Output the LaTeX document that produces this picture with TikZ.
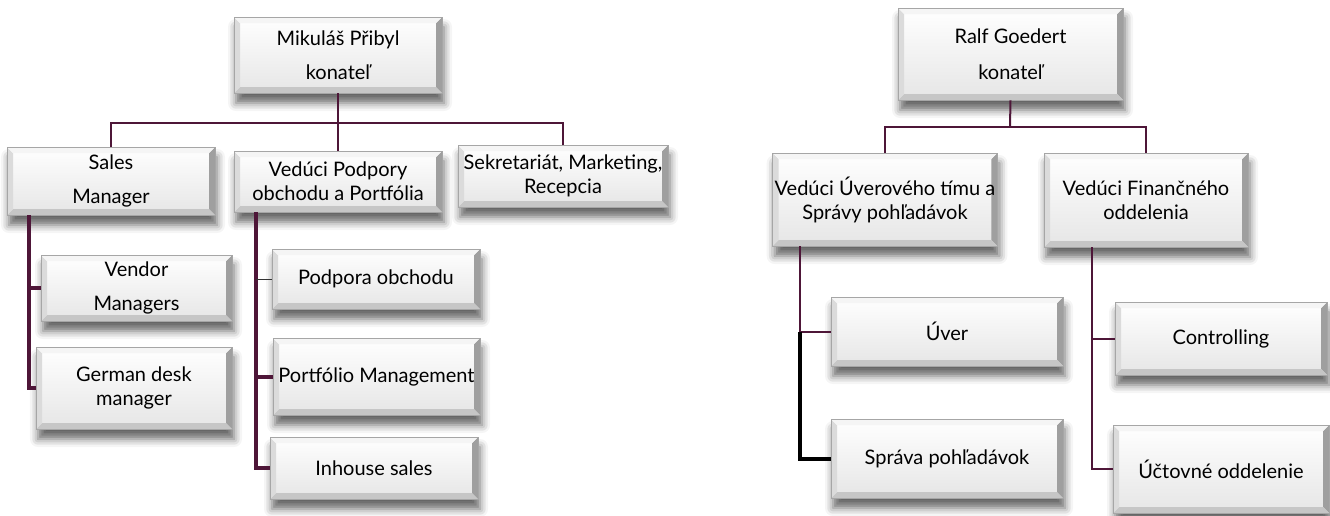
\documentclass[tikz,border=0pt]{standalone}
\usepackage{fontspec}
\setmainfont{Lato}
\usetikzlibrary{shadows.blur}

\definecolor{plum}{RGB}{78,22,56}

\tikzset{
  orgbox/.style={draw=gray!70, line width=0.3pt, top color=white, bottom color=gray!20,
    align=center, inner sep=1pt,
    blur shadow={shadow xshift=1pt, shadow yshift=-5pt, shadow blur radius=4pt, shadow opacity=60},
    path picture={
      \fill[gray!75] (path picture bounding box.north east) -- (path picture bounding box.south east)
        -- ([shift={(-3pt,3pt)}]path picture bounding box.south east)
        -- ([shift={(-3pt,-3pt)}]path picture bounding box.north east) -- cycle;
      \fill[gray!45] (path picture bounding box.south west) -- (path picture bounding box.south east)
        -- ([shift={(-3pt,3pt)}]path picture bounding box.south east)
        -- ([shift={(3pt,3pt)}]path picture bounding box.south west) -- cycle;
      \fill[gray!28] (path picture bounding box.north west) -- (path picture bounding box.south west)
        -- ([shift={(3pt,3pt)}]path picture bounding box.south west)
        -- ([shift={(3pt,-3pt)}]path picture bounding box.north west) -- cycle;
      \fill[gray!8] (path picture bounding box.north west) -- (path picture bounding box.north east)
        -- ([shift={(-3pt,-3pt)}]path picture bounding box.north east)
        -- ([shift={(3pt,-3pt)}]path picture bounding box.north west) -- cycle;
    }},
  link/.style={plum, line width=1pt},
  trunk/.style={plum, line width=2pt},
}

\begin{document}
\begin{tikzpicture}[x=0.5pt,y=-0.5pt,font=\fontsize{10}{12}\selectfont]

    \useasboundingbox (0,0) rectangle (1330,515);

    % left chart
    \node[orgbox, minimum width=104pt, minimum height=38pt] (mpr) at (338,55) {Mikuláš Přibyl\\[5pt]konateľ};
    \node[orgbox, minimum width=104pt, minimum height=34pt] (sales) at (111,181) {Sales\\[5pt]Manager};
    \node[orgbox, minimum width=104pt, minimum height=30.5pt] (vpo) at (338,181.5) {Vedúci Podpory\\obchodu a Portfólia};
    \node[orgbox, minimum width=105pt, minimum height=31pt] (sekr) at (563,176) {Sekretariát, Marketing,\\Recepcia};

    \node[orgbox, minimum width=95.5pt, minimum height=33pt] (vendor) at (136.5,288) {Vendor\\[5pt]Managers};
    \node[orgbox, minimum width=98pt, minimum height=41pt] (german) at (134,388) {German desk\\manager};

    \node[orgbox, minimum width=104pt, minimum height=30pt] (podpora) at (376,279) {Podpora obchodu};
    \node[orgbox, minimum width=103.5pt, minimum height=38.5pt] (portf) at (376.5,376.5) {Portfólio Management};
    \node[orgbox, minimum width=104pt, minimum height=31pt] (inhouse) at (374,468) {Inhouse sales};

    % right chart
    \node[orgbox, minimum width=112.5pt, minimum height=46pt] (ralf) at (1010.5,54) {Ralf Goedert\\[6pt]konateľ};
    \node[orgbox, minimum width=112pt, minimum height=46.5pt] (uvt) at (885,199.5) {Vedúci Úverového tímu a\\Správy pohľadávok};
    \node[orgbox, minimum width=102pt, minimum height=47pt] (fin) at (1146,200) {Vedúci Finančného\\oddelenia};

    \node[orgbox, minimum width=116pt, minimum height=34.5pt] (uver) at (947,331.5) {Úver};
    \node[orgbox, minimum width=116pt, minimum height=39.5pt] (sprava) at (947,458.5) {Správa pohľadávok};
    \node[orgbox, minimum width=106pt, minimum height=36.5pt] (ctrl) at (1221,338.5) {Controlling};
    \node[orgbox, minimum width=108pt, minimum height=44pt] (uct) at (1221,469) {Účtovné oddelenie};

    % top bus, left
    \coordinate (busL) at (338,123);
    \draw[link] (mpr.south) -- (vpo.north);
    \draw[link] (sales.north) |- (busL) -| (sekr.north);

    % branches under sales manager
    \coordinate (salestrunk) at ([xshift=-41pt]sales.south);
    \draw[trunk] (salestrunk) |- (german.west);
    \draw[trunk] (salestrunk |- vendor.west) -- (vendor.west);

    % branches under podpora / portfolio
    \coordinate (vpotrunk) at ([xshift=-41pt]vpo.south);
    \draw[trunk] (vpotrunk) |- (inhouse.west);
    \draw[trunk] (vpotrunk |- portf.west) -- (portf.west);
    \draw[black!80, line width=0.5pt] (vpotrunk |- podpora.west) -- (podpora.west);

    % top bus, right
    \coordinate (busR) at (1010,127);
    \draw[link] (ralf.south) -- (busR);
    \draw[link] (uvt.north) |- (busR) -| (fin.north);

    % branches under uverovy tim
    \coordinate (uvttrunk) at ([xshift=-42.5pt]uvt.south);
    \draw[link] (uvttrunk) |- (uver.west);
    \draw[trunk, black] (uvttrunk |- uver.west) |- (sprava.west);

    % branches under financne oddelenie
    \coordinate (fintrunk) at ([xshift=-27pt]fin.south);
    \draw[link] (fintrunk) |- (uct.west);
    \draw[link] (fintrunk |- ctrl.west) -- (ctrl.west);

\end{tikzpicture}
\end{document}
